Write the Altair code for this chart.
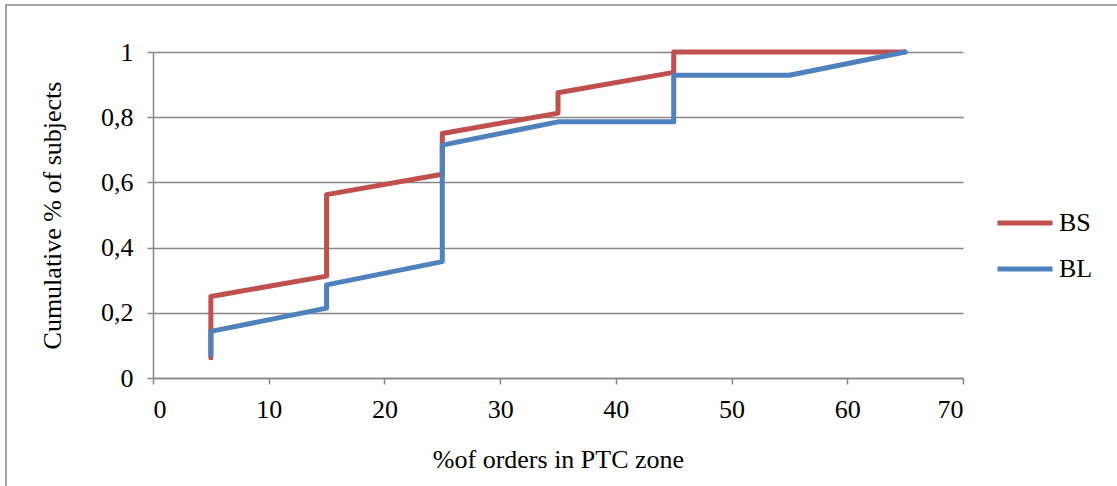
import altair as alt
import pandas as pd

series_names = ["BS", "BL"]
bs_x = [5, 5, 15, 15, 25, 25, 35, 35, 45, 45, 65]
bs_y = [0.0625, 0.25, 0.3125, 0.5625, 0.625, 0.75, 0.8125, 0.875, 0.9375, 1.0, 1.0]
bl_x = [5, 5, 15, 15, 25, 25, 35, 45, 45, 55, 65]
bl_y = [0.0714, 0.1429, 0.2143, 0.2857, 0.3571, 0.7143, 0.7857, 0.7857, 0.9286, 0.9286, 1.0]
colors = ["#C0504D", "#4F81BD"]
x_ticks = [0, 10, 20, 30, 40, 50, 60, 70]
y_ticks = [0, 0.2, 0.4, 0.6, 0.8, 1.0]

rows = []
for i, (xv, yv) in enumerate(zip(bs_x, bs_y)):
    rows.append({"series": "BS", "x": xv, "y": yv, "order": i})
for i, (xv, yv) in enumerate(zip(bl_x, bl_y)):
    rows.append({"series": "BL", "x": xv, "y": yv, "order": i})
df = pd.DataFrame(rows)

FONT = "'Liberation Serif', 'Times New Roman', serif"
FS = 26
GRAY = "#878787"

color = alt.Color(
    "series:N",
    scale=alt.Scale(domain=series_names, range=colors),
    legend=alt.Legend(
        title=None,
        orient="none",
        legendX=842,
        legendY=155,
        symbolType="stroke",
        symbolSize=3025,
        symbolStrokeWidth=5,
        clipHeight=32,
        rowPadding=14,
        labelFont=FONT,
        labelFontSize=FS,
        labelColor="#000000",
        labelOffset=4,
    ),
)

x_enc = alt.X(
    "x:Q",
    scale=alt.Scale(domain=[0, 70], nice=False),
    axis=alt.Axis(
        values=x_ticks,
        title="%of orders in PTC zone",
        grid=False,
        domainColor=GRAY,
        domainWidth=1.5,
        tickColor=GRAY,
        tickWidth=1.5,
        tickSize=6,
        labelPadding=12,
        labelFont=FONT,
        labelFontSize=FS,
        labelColor="#000000",
        titleFont=FONT,
        titleFontSize=FS,
        titleFontWeight="normal",
        titleColor="#000000",
        titlePadding=24,
    ),
)
y_enc = alt.Y(
    "y:Q",
    scale=alt.Scale(domain=[0, 1], nice=False),
    axis=alt.Axis(
        values=y_ticks,
        format=".1~f",
        labelExpr="replace(datum.label, '.', ',')",
        title="Cumulative % of subjects",
        grid=True,
        gridColor=GRAY,
        gridWidth=1.5,
        domainColor=GRAY,
        domainWidth=1.5,
        tickColor=GRAY,
        tickWidth=1.5,
        tickSize=6,
        labelPadding=14,
        labelFont=FONT,
        labelFontSize=FS,
        labelColor="#000000",
        titleFont=FONT,
        titleFontSize=FS,
        titleFontWeight="normal",
        titleColor="#000000",
        titlePadding=35,
    ),
)

frame = alt.Chart(pd.DataFrame({"a": [0]})).mark_rect(
    fill=None, stroke=GRAY, strokeWidth=1.5
).encode(
    x=alt.value(-147), x2=alt.value(1000), y=alt.value(-47), y2=alt.value(470)
)

bs_layer = alt.Chart(df[df.series == "BS"]).mark_line(strokeWidth=5, strokeCap="round", strokeJoin="round").encode(
    x=x_enc, y=y_enc, color=color, order="order:Q"
)
bl_layer = alt.Chart(df[df.series == "BL"]).mark_line(strokeWidth=5, strokeCap="round", strokeJoin="round").encode(
    x=x_enc, y=y_enc, color=color, order="order:Q"
)

chart = alt.layer(frame, bs_layer, bl_layer).properties(
    width=810,
    height=326,
    autosize=alt.AutoSizeParams(type="none"),
    padding={"left": 153, "top": 52, "right": 154, "bottom": 108},
    background="#ffffff",
).configure_view(stroke=None)

chart.save("out.html", embed_options={"renderer": "svg", "actions": False})
